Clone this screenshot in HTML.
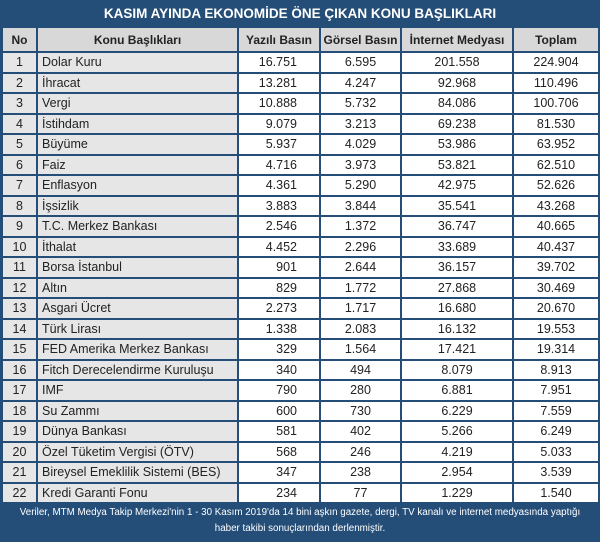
<!DOCTYPE html>
<html><head><meta charset="utf-8"><style>
body{margin:0;width:600px;height:542px;overflow:hidden;background:#fff;font-family:"Liberation Sans",sans-serif}
#t{position:absolute;left:0;top:0;width:600px;height:542px;background:#244d78}
.title{position:absolute;left:0;top:0;width:600px;height:27px;line-height:28px;text-align:center;color:#fff;font-weight:bold;font-size:13.5px}
table{position:absolute;left:1px;top:26px;width:597px;border-collapse:collapse;font-size:12.5px;color:#222;table-layout:fixed}
td,th{border:2px solid #244d78;padding:0 4px;white-space:nowrap;overflow:hidden}
thead tr{height:25px}
tbody tr{height:20.5px}
th{background:#d8d8d8;font-weight:bold;padding:0;font-size:12px}
td{background:#fff}
td.n,td.k{background:#e6e6e6}
td.n{text-align:center}
td.y{text-align:right;padding-right:22px}
td.c{text-align:center}
.foot{position:absolute;left:0;top:505px;width:600px;text-align:center;color:#fff;font-size:9.8px;line-height:16px}
</style></head><body>
<div id="t">
<div class="title">KASIM AYINDA EKONOMİDE ÖNE ÇIKAN KONU BAŞLIKLARI</div>
<table>
<colgroup><col style="width:35px"><col style="width:201px"><col style="width:82px"><col style="width:81px"><col style="width:112px"><col style="width:86px"></colgroup>
<thead><tr><th>No</th><th>Konu Başlıkları</th><th>Yazılı Basın</th><th>Görsel Basın</th><th>İnternet Medyası</th><th>Toplam</th></tr></thead>
<tbody id="tb"></tbody>
</table>
<div class="foot">Veriler, MTM Medya Takip Merkezi'nin 1 - 30 Kasım 2019'da 14 bini aşkın gazete, dergi, TV kanalı ve internet medyasında yaptığı<br>haber takibi sonuçlarından derlenmiştir.</div>
</div>
<script>
const topics=["Dolar Kuru","İhracat","Vergi","İstihdam","Büyüme","Faiz","Enflasyon","İşsizlik","T.C. Merkez Bankası","İthalat","Borsa İstanbul","Altın","Asgari Ücret","Türk Lirası","FED Amerika Merkez Bankası","Fitch Derecelendirme Kuruluşu","IMF","Su Zammı","Dünya Bankası","Özel Tüketim Vergisi (ÖTV)","Bireysel Emeklilik Sistemi (BES)","Kredi Garanti Fonu"];
const yazili=["16.751","13.281","10.888","9.079","5.937","4.716","4.361","3.883","2.546","4.452","901","829","2.273","1.338","329","340","790","600","581","568","347","234"];
const gorsel=["6.595","4.247","5.732","3.213","4.029","3.973","5.290","3.844","1.372","2.296","2.644","1.772","1.717","2.083","1.564","494","280","730","402","246","238","77"];
const internet=["201.558","92.968","84.086","69.238","53.986","53.821","42.975","35.541","36.747","33.689","36.157","27.868","16.680","16.132","17.421","8.079","6.881","6.229","5.266","4.219","2.954","1.229"];
const toplam=["224.904","110.496","100.706","81.530","63.952","62.510","52.626","43.268","40.665","40.437","39.702","30.469","20.670","19.553","19.314","8.913","7.951","7.559","6.249","5.033","3.539","1.540"];
const tb=document.getElementById('tb');
topics.forEach((t,i)=>{
  const tr=document.createElement('tr');
  
  
  [[i+1,'n'],[t,'k'],[yazili[i],'y'],[gorsel[i],'c'],[internet[i],'c'],[toplam[i],'c']].forEach(([v,c])=>{
    const td=document.createElement('td');td.className=c;td.textContent=v;
    
    
    tr.appendChild(td);
  });
  tb.appendChild(tr);
});
</script>
</body></html>
